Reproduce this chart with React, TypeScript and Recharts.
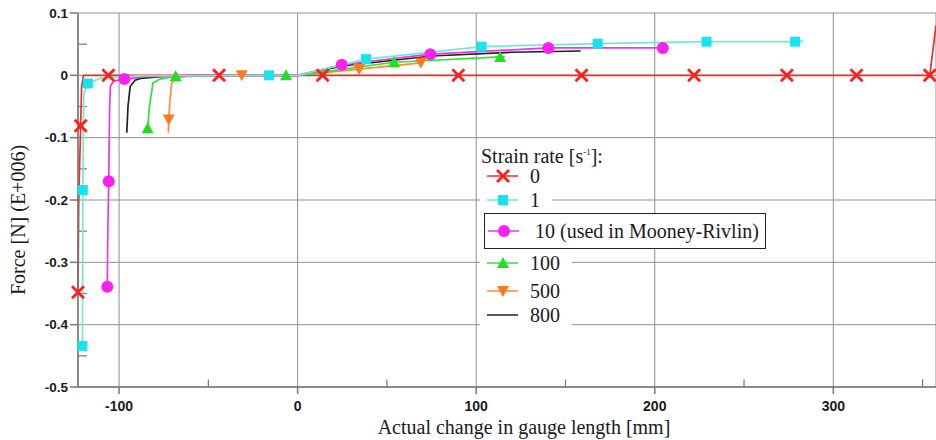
import React from 'react';
import {
  LineChart,
  Line,
  XAxis,
  YAxis,
  CartesianGrid,
  ReferenceLine,
  Legend,
} from 'recharts';

// strain rate 0 s^-1
const rate0X = [-123, -122.6, -121.5, -121, -120, -106, -44, 14, 90, 159, 222, 274, 313, 354, 357.5];
const rate0Y = [-0.348, -0.2, -0.081, -0.02, 0, 0, 0, 0, 0, 0, 0, 0, 0, 0, 0.08];
const rate0Marks = [0, 2, 5, 6, 7, 8, 9, 10, 11, 12, 13];

// strain rate 1 s^-1
const rate1X = [-120.5, -120.3, -119.8, -117.5, -110, -90, -16, 0, 38.3, 103, 168, 229, 278.6, 283];
const rate1Y = [-0.434, -0.184, -0.03, -0.013, -0.004, -0.001, 0, 0, 0.026, 0.046, 0.051, 0.054, 0.054, 0.055];
const rate1Marks = [0, 1, 3, 6, 8, 9, 10, 11, 12];

// strain rate 10 s^-1
const rate10X = [-106.6, -106.3, -105.8, -105.3, -104.8, -103, -97, -85, -60, 0, 24.7, 74.3, 140.4, 204.5];
const rate10Y = [-0.339, -0.25, -0.17, -0.05, -0.017, -0.009, -0.006, -0.002, 0, 0, 0.017, 0.034, 0.044, 0.044];
const rate10Marks = [0, 2, 6, 10, 11, 12, 13];

// strain rate 100 s^-1
const rate100X = [-84, -83, -81, -77, -68.3, -40, -6.5, 0, 54, 113.4, 116];
const rate100Y = [-0.085, -0.05, -0.012, -0.006, -0.0015, 0, 0, 0, 0.021, 0.0295, 0.03];
const rate100Marks = [0, 4, 6, 8, 9];

// strain rate 500 s^-1
const rate500X = [-72.4, -72.2, -71.5, -70.5, -67.7, -60, -31.3, 0, 34.4, 69, 70.5];
const rate500Y = [-0.092, -0.071, -0.04, -0.012, -0.004, -0.001, 0, 0, 0.01, 0.02, 0.021];
const rate500Marks = [1, 6, 8, 9];

// strain rate 800 s^-1
const rate800X = [-95.7, -95, -93.8, -91, -88, -77, -55, 0, 25, 75, 120, 158.5];
const rate800Y = [-0.092, -0.05, -0.018, -0.008, -0.005, -0.002, 0, 0, 0.015, 0.031, 0.037, 0.039];
const rate800Marks: number[] = [];

const xTicks = [-100, 0, 100, 200, 300];
const xMinorTicks = [-50, 50, 150, 250, 350];
const yTicks = [0.1, 0, -0.1, -0.2, -0.3, -0.4, -0.5];
const yMinorTicks = [0.05, -0.05, -0.15, -0.25, -0.35, -0.45];

const X_MIN = -123;
const X_MAX = 357.5;
const Y_MIN = -0.5;
const Y_MAX = 0.1;

type Shape = 'cross' | 'square' | 'circle' | 'triangle' | 'triangleDown' | 'none';

const zip = (xs: number[], ys: number[]) => xs.map((x, i) => ({ x, y: ys[i] }));

const series = [
  { name: '0', color: '#ff1f1f', line: '#ee2c2c', shape: 'cross' as Shape, data: zip(rate0X, rate0Y), marks: rate0Marks },
  { name: '800', color: '#202020', line: '#202020', shape: 'none' as Shape, data: zip(rate800X, rate800Y), marks: rate800Marks },
  { name: '500', color: '#ff7a1f', line: '#ff8a3a', shape: 'triangleDown' as Shape, data: zip(rate500X, rate500Y), marks: rate500Marks },
  { name: '100', color: '#1ee01e', line: '#33e033', shape: 'triangle' as Shape, data: zip(rate100X, rate100Y), marks: rate100Marks },
  { name: '10', color: '#ff1ff0', line: '#e838e8', shape: 'circle' as Shape, data: zip(rate10X, rate10Y), marks: rate10Marks },
  { name: '1', color: '#19e3f0', line: '#74e8d2', shape: 'square' as Shape, data: zip(rate1X, rate1Y), marks: rate1Marks },
];

const legendRows = [
  { label: '0', key: '0', top: 38 },
  { label: '1', key: '1', top: 62 },
  { label: '10 (used in Mooney-Rivlin)', key: '10', top: 93, boxed: true },
  { label: '100', key: '100', top: 125 },
  { label: '500', key: '500', top: 153 },
  { label: '800', key: '800', top: 177 },
];

function Marker({ shape, color, cx, cy }: { shape: Shape; color: string; cx: number; cy: number }) {
  switch (shape) {
    case 'cross':
      return (
        <g stroke={color} strokeWidth={2.8}>
          <line x1={cx - 6} y1={cy - 6} x2={cx + 6} y2={cy + 6} />
          <line x1={cx - 6} y1={cy + 6} x2={cx + 6} y2={cy - 6} />
        </g>
      );
    case 'square':
      return <rect x={cx - 5} y={cy - 5} width={10} height={10} fill={color} />;
    case 'circle':
      return <circle cx={cx} cy={cy} r={6} fill={color} />;
    case 'triangle':
      return <polygon points={`${cx},${cy - 6} ${cx + 6},${cy + 5} ${cx - 6},${cy + 5}`} fill={color} />;
    case 'triangleDown':
      return <polygon points={`${cx - 6},${cy - 5} ${cx + 6},${cy - 5} ${cx},${cy + 6}`} fill={color} />;
    default:
      return null;
  }
}

const markerDot = (shape: Shape, color: string, marks: number[]) => (props: any) => {
  const { cx, cy, index } = props;
  if (!marks.includes(index) || cx == null || cy == null) return <g key={`d-${index}`} />;
  return (
    <g key={`d-${index}`}>
      <Marker shape={shape} color={color} cx={cx} cy={cy} />
    </g>
  );
};

const serif = '"Liberation Serif", "Times New Roman", serif';
const sans = '"Liberation Sans", Arial, sans-serif';

function StrainLegend() {
  return (
    <div style={{ position: 'relative', width: 300, height: 200, fontFamily: serif, fontSize: 20, color: '#1a1a1a' }}>
      <div style={{ position: 'absolute', left: 5, top: 2, lineHeight: '24px', whiteSpace: 'nowrap' }}>
        Strain rate [s<sup style={{ fontSize: 9 }}>-1</sup>]:
      </div>
      {legendRows.map((row) => {
        const s = series.find((d) => d.name === row.key)!;
        const style: React.CSSProperties = row.boxed
          ? {
              position: 'absolute', left: 8, top: row.top - 18, width: 280, height: 34,
              border: '1.5px solid #222', background: '#fff',
              display: 'flex', alignItems: 'center', boxSizing: 'content-box',
            }
          : {
              position: 'absolute', left: 4, top: row.top - 12, height: 24,
              display: 'flex', alignItems: 'center', background: '#fff', paddingRight: 12,
            };
        return (
          <div key={row.key} style={style}>
            <svg width={row.boxed ? 34 : 38} height={20} style={{ flex: 'none' }}>
              <g transform={row.boxed ? 'translate(-4,0)' : undefined}>
                <line x1={7} y1={10} x2={40} y2={10} stroke={s.line} strokeWidth={1.6} />
                <Marker shape={s.shape} color={s.color} cx={23} cy={10} />
              </g>
            </svg>
            <span style={{ marginLeft: row.boxed ? 16 : 12, whiteSpace: 'nowrap', lineHeight: '22px' }}>{row.label}</span>
          </div>
        );
      })}
    </div>
  );
}

export default function App() {
  return (
    <div style={{ position: 'absolute', left: 0, top: 0, width: 936, height: 440, background: '#fff' }}>
      <LineChart width={936} height={440} margin={{ top: 13, right: 0, bottom: 0, left: 0 }}>
        <CartesianGrid stroke="#8f8f8f" strokeWidth={1} />
        <XAxis
          type="number"
          dataKey="x"
          domain={[X_MIN, X_MAX]}
          ticks={xTicks}
          height={53}
          stroke="#777"
          strokeWidth={1.5}
          tickSize={7}
          tickMargin={7}
          tick={{ fill: '#1a1a1a', fontSize: 14, fontWeight: 700, fontFamily: sans }}
          label={(p: any) => {
            const vb = p.viewBox;
            return (
              <text x={vb.x + 446} y={vb.y + 47} textAnchor="middle" fontFamily={serif} fontSize={20} fill="#1a1a1a">
                Actual change in gauge length [mm]
              </text>
            );
          }}
        />
        <YAxis
          type="number"
          domain={[Y_MIN, Y_MAX]}
          ticks={yTicks}
          width={78}
          stroke="#777"
          strokeWidth={1.5}
          tickSize={8}
          tickMargin={2}
          tickFormatter={(v: number) => String(v)}
          tick={{ fill: '#1a1a1a', fontSize: 13.5, fontWeight: 700, fontFamily: sans }}
          label={(p: any) => {
            const vb = p.viewBox;
            const cx = 18;
            const cy = vb.y + 207;
            return (
              <text x={cx} y={cy} transform={`rotate(-90 ${cx} ${cy})`} textAnchor="middle" dominantBaseline="central" fontFamily={serif} fontSize={20} fill="#1a1a1a">
                Force [N] (E+006)
              </text>
            );
          }}
        />
        {xMinorTicks.map((t) => (
          <ReferenceLine key={`xm${t}`} segment={[{ x: t, y: Y_MIN }, { x: t, y: Y_MIN + 0.012 }]} stroke="#777" strokeWidth={1.2} />
        ))}
        {yMinorTicks.map((t) => (
          <ReferenceLine key={`ym${t}`} segment={[{ x: X_MIN, y: t }, { x: X_MIN + 5, y: t }]} stroke="#777" strokeWidth={1.2} />
        ))}
        {series.map((s) => (
          <Line
            key={s.name}
            data={s.data}
            dataKey="y"
            name={s.name}
            type="linear"
            stroke={s.line}
            strokeWidth={1.7}
            dot={markerDot(s.shape, s.color, s.marks)}
            activeDot={false}
            isAnimationActive={false}
          />
        ))}
        <Legend
          content={<StrainLegend />}
          layout="vertical"
          align="center"
          verticalAlign="middle"
          wrapperStyle={{ left: 476, top: 138, width: 300, height: 200 }}
        />
      </LineChart>
    </div>
  );
}
